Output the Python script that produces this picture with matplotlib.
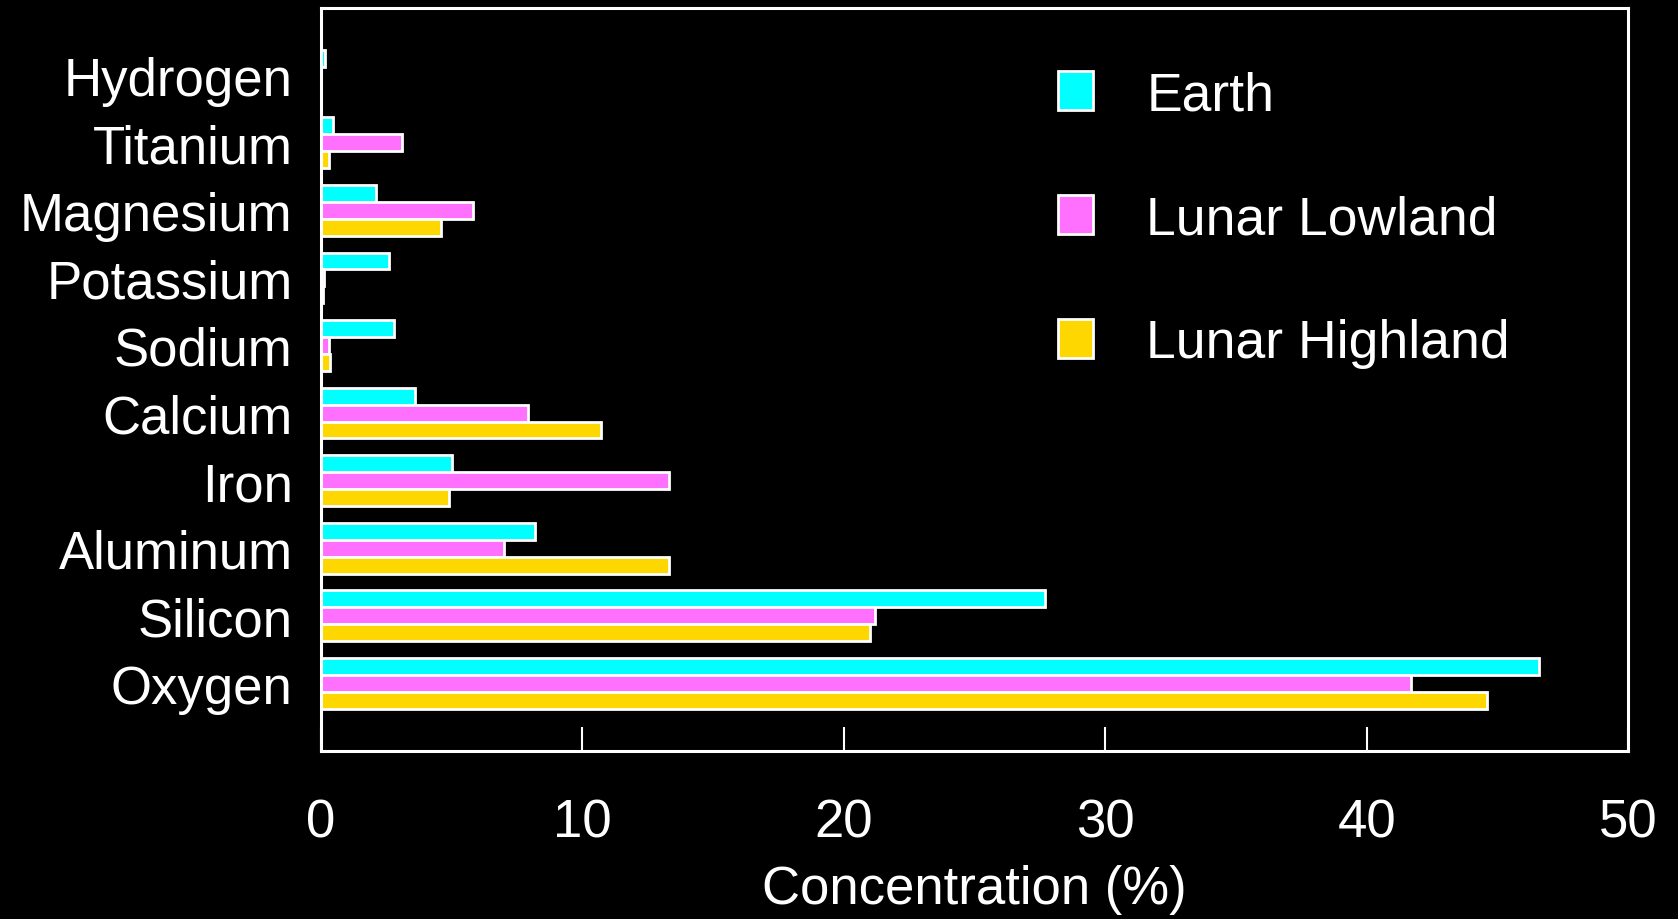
import matplotlib
matplotlib.use("Agg")
import matplotlib.pyplot as plt
import numpy as np

plt.rcParams['font.family'] = ['Liberation Sans', 'DejaVu Sans']

elements = ["Oxygen", "Silicon", "Aluminum", "Iron", "Calcium",
            "Sodium", "Potassium", "Magnesium", "Titanium", "Hydrogen"]
earth = [46.6, 27.7, 8.2, 5.0, 3.6, 2.8, 2.6, 2.1, 0.44, 0.14]
lunar_lowland = [41.7, 21.2, 7.0, 13.3, 7.9, 0.3, 0.1, 5.8, 3.1, 0.0]
lunar_highland = [44.6, 21.0, 13.3, 4.9, 10.7, 0.35, 0.06, 4.6, 0.3, 0.0]
series_names = ["Earth", "Lunar Lowland", "Lunar Highland"]
series_colors = ["#00FFFF", "#FF70FF", "#FFD700"]
x_ticks = [0, 10, 20, 30, 40, 50]

fig = plt.figure(figsize=(16.78, 9.2), dpi=100, facecolor="black")
ax = fig.add_axes([0.1913, 0.1826, 0.7789, 0.8081], facecolor="black")

y = np.arange(len(elements))
h = 0.25
offsets = [h, 0.0, -h]
for vals, name, col, off in zip([earth, lunar_lowland, lunar_highland],
                                series_names, series_colors, offsets):
    ax.barh(y + off, vals, height=h, color=col, edgecolor="white",
            linewidth=2.0, label=name)

ax.set_xlim(0, 50)
ax.set_ylim(-1, len(elements))
ax.set_yticks(y)
ax.set_yticklabels(elements)
ax.set_xticks(x_ticks)
ax.tick_params(axis="y", length=0, pad=20.5, labelsize=38, labelcolor="white")
ax.tick_params(axis="x", direction="in", length=17, width=1.5, color="white",
               pad=33.5, labelsize=38, labelcolor="white")
for s in ax.spines.values():
    s.set_color("white")
    s.set_linewidth(2.2)

ax.set_xlabel("Concentration (%)", color="white", fontsize=38, labelpad=12)

leg = ax.legend(loc="upper left", bbox_to_anchor=(0.527, 0.98), frameon=False,
                fontsize=38.5, labelcolor="white", handlelength=0.65,
                handleheight=0.75, handletextpad=1.0, labelspacing=1.38)

fig.savefig("out.png", dpi=100, facecolor="black")
